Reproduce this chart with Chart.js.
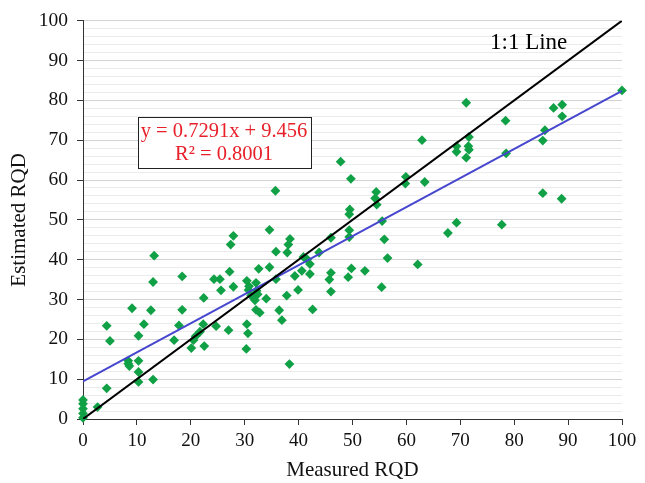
<!DOCTYPE html>
<html>
<head>
<meta charset="utf-8">
<script src="https://cdn.jsdelivr.net/npm/chart.js@4/dist/chart.umd.min.js"></script>
<style>
  html, body { margin: 0; padding: 0; background: #fff; }
  #wrap { width: 645px; height: 483px; }
</style>
</head>
<body>
<div id="wrap"><canvas id="rqdChart" width="645" height="483"></canvas></div>
<script>
// measured vs estimated RQD
const measured = [
  0, 0, 0, 0, 0, 2.7, 4.4, 4.4, 5.0, 8.4, 8.4, 8.6, 9.1, 10.3, 10.3, 10.3, 10.3, 11.3, 12.6, 13.0,
  13.2, 13.0, 16.9, 17.8, 18.4, 18.4, 20.1, 20.5, 20.9, 21.7, 22.3, 22.5, 22.4, 24.3, 25.4, 24.7, 25.6, 27.0, 27.2, 27.4,
  27.9, 27.9, 30.4, 30.6, 30.3, 30.4, 30.8, 32.1, 30.7, 32.2, 31.2, 32.4, 31.9, 32.1, 32.8, 34.0, 32.6, 34.6, 35.8, 34.6,
  35.7, 35.8, 37.9, 38.1, 38.4, 36.4, 36.9, 37.8, 38.3, 39.3, 39.9, 40.6, 40.9, 41.6, 42.1, 42.1, 42.6, 43.8, 46.0, 46.0,
  45.7, 46.0, 47.8, 49.7, 49.5, 49.4, 49.4, 49.4, 49.8, 49.2, 52.3, 54.4, 54.2, 54.5, 55.5, 55.9, 56.5, 55.4, 59.9, 59.8,
  62.9, 63.4, 62.1, 67.7, 69.3, 69.3, 69.3, 71.6, 71.5, 71.6, 71.1, 71.1, 77.7, 78.4, 78.5, 85.3, 85.7, 85.3, 87.3, 88.9,
  88.9, 88.8, 100
];
const estimated = [
  4.8, 3.8, 2.6, 1.4, 0.3, 3.0, 7.7, 23.4, 19.6, 14.6, 13.9, 13.3, 27.8, 14.6, 20.9, 11.8, 9.3, 23.8, 27.3, 34.4,
  41.0, 9.9, 19.8, 23.5, 27.4, 35.8, 17.8, 19.8, 20.8, 21.9, 23.8, 18.3, 30.4, 35.1, 35.1, 23.3, 32.3, 22.3, 37.0, 43.8,
  46.0, 33.2, 23.8, 21.5, 17.6, 34.7, 33.3, 34.2, 32.4, 32.2, 31.0, 31.3, 29.8, 27.4, 26.7, 30.2, 37.7, 38.1, 35.1, 47.5,
  57.3, 42.0, 41.8, 43.8, 45.2, 27.3, 24.8, 31.0, 13.8, 35.9, 32.4, 37.2, 40.7, 40.1, 38.9, 36.4, 27.5, 41.8, 45.5, 36.7,
  35.0, 32.0, 64.6, 60.3, 52.6, 51.4, 47.4, 45.7, 37.8, 35.6, 37.2, 57.0, 55.4, 53.8, 49.7, 45.1, 40.4, 33.1, 60.8, 59.1,
  70.0, 59.5, 38.8, 46.7, 49.3, 68.5, 67.1, 70.8, 68.5, 67.6, 65.6, 79.4, 48.8, 74.9, 66.7, 69.9, 72.5, 56.7, 78.1, 78.9,
  76.0, 55.3, 82.5
];

// trend line from the figure
const slope = 0.7291;
const intercept = 9.456;
const rSquared = 0.8001;
const axisRange = [0, 100];

const serif = "'Liberation Serif', 'Times New Roman', serif";

const points = measured.map((x, i) => ({ x, y: estimated[i] }));
const oneToOne = axisRange.map((v) => ({ x: v, y: v }));
const trend = axisRange.map((v) => ({ x: v, y: slope * v + intercept }));

const labelsPlugin = {
  id: 'labels',
  afterDatasetsDraw(chart) {
    const ctx = chart.ctx;
    ctx.save();
    // 1:1 label
    ctx.fillStyle = '#000';
    ctx.font = '23px ' + serif;
    ctx.textAlign = 'left';
    ctx.textBaseline = 'middle';
    ctx.fillText('1:1 Line', 490, 43);

    // equation box
    ctx.fillStyle = '#fff';
    ctx.fillRect(138.5, 117.5, 173, 51);
    ctx.strokeStyle = '#222';
    ctx.lineWidth = 1;
    ctx.strokeRect(138.5, 117.5, 173, 51);
    ctx.fillStyle = '#e8202a';
    ctx.font = '20.5px ' + serif;
    ctx.textAlign = 'center';
    ctx.fillText('y = ' + slope + 'x + ' + intercept, 224, 132);
    ctx.fillText('R\u00b2 = ' + rSquared.toFixed(4), 224, 155);
    ctx.restore();
  }
};

new Chart(document.getElementById('rqdChart'), {
  type: 'scatter',
  data: {
    datasets: [
      { type: 'line', data: oneToOne, borderColor: '#000', borderWidth: 2, pointRadius: 0, fill: false },
      { type: 'line', data: trend, borderColor: '#4646cf', borderWidth: 2, pointRadius: 0, fill: false },
      {
        data: points,
        clip: false,
        pointStyle: 'rectRot',
        pointRadius: 4.9,
        backgroundColor: '#10a045',
        borderColor: '#10a045',
        borderWidth: 0
      }
    ]
  },
  options: {
    responsive: false,
    animation: false,
    layout: { padding: { top: 19, right: 23, left: 0, bottom: 0 } },
    plugins: { legend: { display: false }, tooltip: { enabled: false } },
    scales: {
      x: {
        type: 'linear',
        min: axisRange[0],
        max: axisRange[1],
        afterFit: (scale) => { scale.height = 64; },
        border: { color: '#333', width: 1 },
        grid: { drawOnChartArea: false, drawTicks: true, tickLength: 6, tickColor: '#333' },
        ticks: { stepSize: 10, padding: 5, color: '#111', font: { family: serif, size: 19 } },
        title: { display: true, text: 'Measured RQD', color: '#111', font: { family: serif, size: 21 }, padding: { top: 0, bottom: 0 } }
      },
      y: {
        type: 'linear',
        min: axisRange[0],
        max: axisRange[1],
        afterFit: (scale) => { scale.width = 83; },
        border: { color: '#333', width: 1 },
        grid: {
          color: (c) => (c.tick && c.tick.value % 10 === 0 ? '#d3d3d3' : '#ebebeb'),
          tickColor: (c) => (c.tick && c.tick.value % 10 === 0 ? '#333' : 'rgba(0,0,0,0)'),
          tickLength: 6,
          lineWidth: 1
        },
        ticks: {
          stepSize: 2,
          autoSkip: false,
          padding: 9,
          color: '#111',
          font: { family: serif, size: 19.5 },
          callback: (v) => (v % 10 === 0 ? v : '')
        },
        title: { display: true, text: 'Estimated RQD', color: '#111', font: { family: serif, size: 21 }, padding: { top: 7, bottom: 0 } }
      }
    }
  },
  plugins: [labelsPlugin]
});
</script>
</body>
</html>
